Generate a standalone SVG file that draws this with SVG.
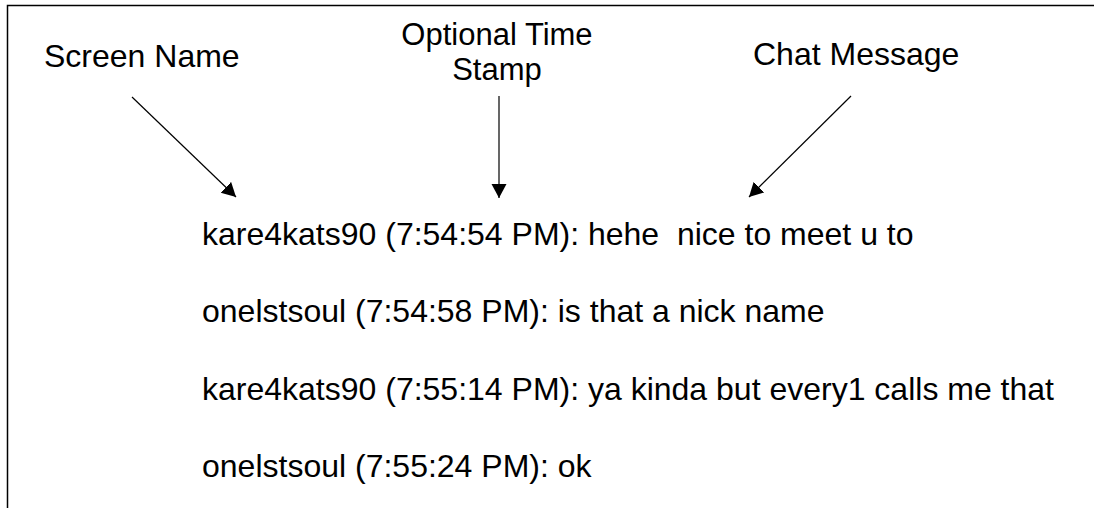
<svg xmlns="http://www.w3.org/2000/svg" width="1094" height="508" viewBox="0 0 1094 508">
  <style>
    text { font-family: "Liberation Sans", Arial, sans-serif; font-size: 32px; fill: #000; }
    .stack { font-size: 31px; }
    .conn { stroke: #000; stroke-width: 1.2; fill: none; marker-end: url(#arrow); }
    .frame { stroke: #000; stroke-width: 1.5; fill: none; }
  </style>
  <defs>
    <marker id="arrow" markerUnits="userSpaceOnUse" markerWidth="16" markerHeight="16" refX="14" refY="7.5" orient="auto">
      <path d="M0,0 L14,7.5 L0,15 Z" fill="#000"/>
    </marker>
  </defs>
  <rect width="1094" height="508" fill="#fff"/>
  <path class="frame" d="M7.5,508 L7.5,5.5 L1094,5.5"/>

  <g id="label-screen-name">
    <text x="44" y="67">Screen Name</text>
  </g>
  <g id="label-time-stamp">
    <text class="stack" x="497" y="45" text-anchor="middle">Optional Time</text>
    <text class="stack" x="497" y="80" text-anchor="middle">Stamp</text>
  </g>
  <g id="label-chat-message">
    <text x="753" y="65">Chat Message</text>
  </g>

  <g id="chat-log">
    <text x="202" y="245" xml:space="preserve">kare4kats90 (7:54:54 PM): hehe  nice to meet u to</text>
    <text x="202" y="322">onelstsoul (7:54:58 PM): is that a nick name</text>
    <text x="202" y="400">kare4kats90 (7:55:14 PM): ya kinda but every1 calls me that</text>
    <text x="202" y="477">onelstsoul (7:55:24 PM): ok</text>
  </g>

  <g id="connectors">
    <line class="conn" x1="132" y1="97" x2="236" y2="197"/>
    <line class="conn" x1="499" y1="96" x2="499" y2="198"/>
    <line class="conn" x1="851" y1="96" x2="749" y2="197"/>
  </g>
</svg>
